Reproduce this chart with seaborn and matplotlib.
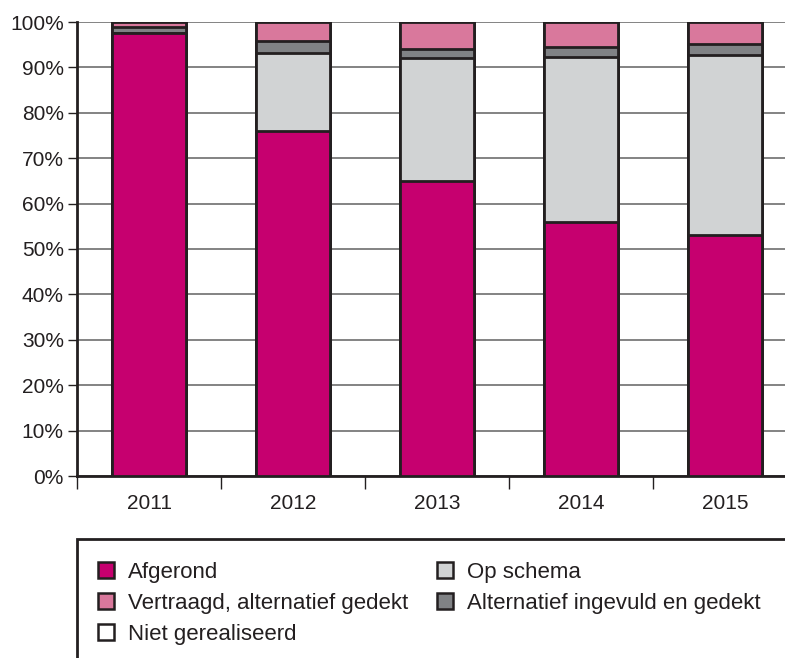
import numpy as np
import pandas as pd
import matplotlib
matplotlib.use('Agg')
import matplotlib.pyplot as plt
import seaborn as sns
from matplotlib.patches import Patch, Rectangle

# data (percent)
years = ['2011', '2012', '2013', '2014', '2015']
afgerond = [97.5, 76.0, 65.0, 56.0, 53.1]
op_schema = [0.0, 17.2, 27.0, 36.4, 39.6]
alternatief = [1.5, 2.7, 2.1, 2.2, 2.4]
vertraagd = [1.0, 4.1, 5.9, 5.4, 4.9]
niet_gerealiseerd = [0.0, 0.0, 0.0, 0.0, 0.0]

colors = {'Afgerond': '#C6006F', 'Op schema': '#D1D3D4',
          'Vertraagd, alternatief gedekt': '#D9789C',
          'Alternatief ingevuld en gedekt': '#808285',
          'Niet gerealiseerd': '#FFFFFF'}
edge = '#231F20'

sns.set_theme(style='white')
plt.rcParams['font.family'] = ['Liberation Sans', 'DejaVu Sans']

# stacking order bottom -> top
stack = [('Afgerond', afgerond), ('Op schema', op_schema),
         ('Alternatief ingevuld en gedekt', alternatief),
         ('Vertraagd, alternatief gedekt', vertraagd),
         ('Niet gerealiseerd', niet_gerealiseerd)]
cum = np.cumsum([vals for _, vals in stack], axis=0)

fig = plt.figure(figsize=(7.85, 6.58), dpi=100)
ax = fig.add_axes([77 / 785, 1 - 476 / 658, 720 / 785, 454 / 658])

# draw cumulative totals from the top layer down so each covers the one below
for i in range(len(stack) - 1, -1, -1):
    name = stack[i][0]
    df = pd.DataFrame({'year': years, 'value': cum[i]})
    sns.barplot(data=df, x='year', y='value', color=colors[name], width=0.51,
                edgecolor=edge, linewidth=2, saturation=1, ax=ax, zorder=3)

ax.set_xlim(-0.5, 4.5)
ax.set_ylim(0, 100)
ax.set_yticks(np.arange(0, 101, 10))
ax.set_yticklabels([f'{v}%' for v in range(0, 101, 10)])
ax.yaxis.grid(True, color='#7a7a7a', linewidth=1.3, zorder=0)
ax.set_axisbelow(True)
ax.set_xlabel('')
ax.set_ylabel('')

for s in ['top', 'right']:
    ax.spines[s].set_visible(False)
for s in ['left', 'bottom']:
    ax.spines[s].set_color(edge)
    ax.spines[s].set_linewidth(2)

ax.tick_params(axis='y', which='major', left=True, direction='out', length=6.5,
               width=1, color=edge, labelsize=15, labelcolor=edge, pad=3)
ax.tick_params(axis='x', which='major', bottom=False, labelsize=15,
               labelcolor=edge, pad=7)
ax.set_xticks(np.arange(-0.5, 4.6, 1), minor=True)
ax.tick_params(axis='x', which='minor', bottom=True, direction='out', length=9,
               width=1, color=edge)

# legend box
fig.patches.append(Rectangle((77 / 785, -0.05), 1.0, 1 - 539 / 658 + 0.05,
                             transform=fig.transFigure, fill=False,
                             edgecolor=edge, linewidth=2))
col1 = ['Afgerond', 'Vertraagd, alternatief gedekt', 'Niet gerealiseerd']
col2 = ['Op schema', 'Alternatief ingevuld en gedekt']
for names, x0 in [(col1, 98), (col2, 437)]:
    handles = [Patch(facecolor=colors[n], edgecolor=edge, linewidth=1.8, label=n)
               for n in names]
    leg = fig.legend(handles=handles, loc='upper left',
                     bbox_to_anchor=(x0 / 785, 1 - 562 / 658), frameon=False,
                     fontsize=16, handlelength=0.72, handleheight=0.72,
                     handletextpad=0.62, labelspacing=0.44, borderpad=0,
                     borderaxespad=0, labelcolor=edge)

fig.savefig('out.png', dpi=100)
